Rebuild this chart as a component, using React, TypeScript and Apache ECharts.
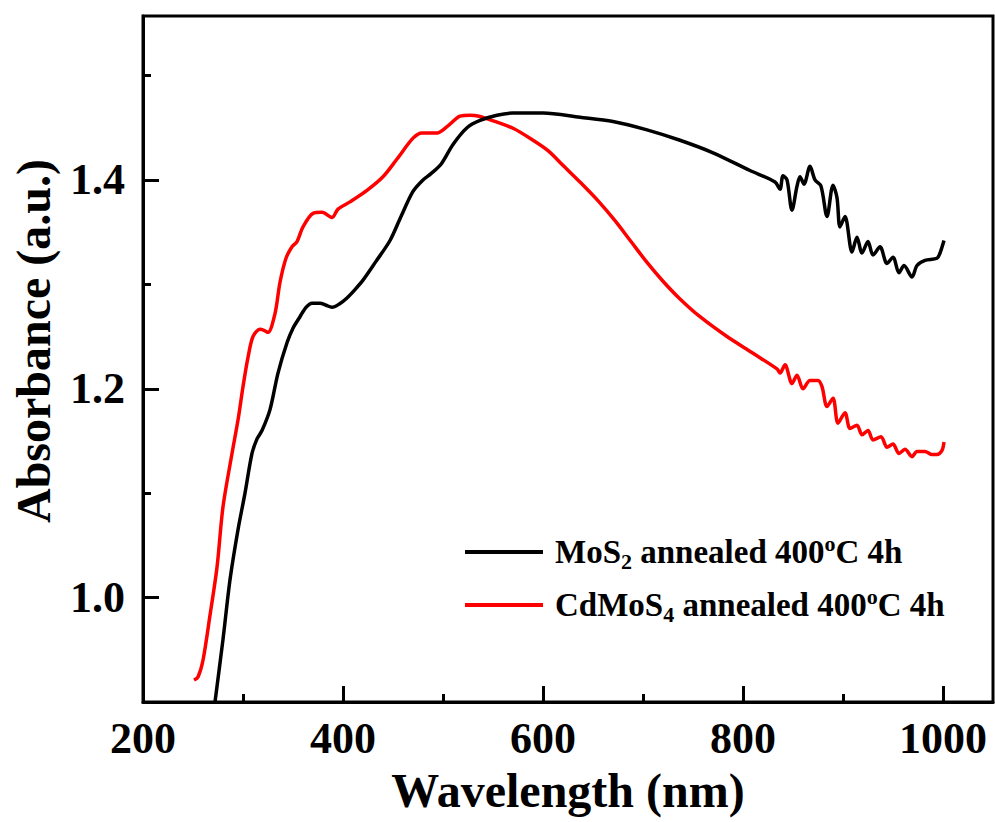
import React, { useEffect, useRef } from "react";
import * as echarts from "echarts";

const FONT = "'Liberation Serif', 'Times New Roman', serif";

const seriesNames = ["MoS2 annealed 400oC 4h", "CdMoS4 annealed 400oC 4h"];

// [wavelength (nm), absorbance (a.u.)]
const mos2Data: number[][] = [
  [269, 0.877], [272, 0.9], [280, 0.96], [287, 1.017], [295, 1.065], [302, 1.1],
  [309, 1.138], [314, 1.152], [319, 1.16], [327, 1.18], [335, 1.215], [344, 1.244],
  [350, 1.258], [357, 1.269], [363, 1.278], [369, 1.282], [377, 1.282], [383, 1.28],
  [389, 1.278], [396, 1.281], [404, 1.287], [412, 1.295], [420, 1.304], [433, 1.322],
  [447, 1.342], [458, 1.365], [470, 1.389], [480, 1.4], [488, 1.406], [498, 1.415],
  [510, 1.434], [524, 1.45], [537, 1.457], [554, 1.462], [570, 1.464], [600, 1.464],
  [637, 1.46], [670, 1.456], [704, 1.448], [737, 1.438], [770, 1.426], [807, 1.409],
  [832, 1.398], [837, 1.391], [840, 1.404], [844, 1.4], [849, 1.371], [854, 1.394],
  [857, 1.403], [861, 1.396], [867, 1.413], [872, 1.4], [878, 1.394], [884, 1.365],
  [890, 1.395], [894, 1.383], [897, 1.355], [902, 1.365], [909, 1.331], [914, 1.345],
  [919, 1.33], [925, 1.341], [930, 1.328], [937, 1.336], [944, 1.32], [950, 1.326],
  [956, 1.311], [961, 1.318], [969, 1.307], [974, 1.318], [982, 1.323], [994, 1.325],
  [997, 1.33], [1001, 1.342],
];

const cdmos4Data: number[][] = [
  [251, 0.921], [255, 0.924], [260, 0.94], [267, 0.983], [274, 1.029], [280, 1.087],
  [289, 1.138], [295, 1.17], [300, 1.202], [305, 1.23], [310, 1.25], [317, 1.257],
  [321, 1.256], [325, 1.254], [332, 1.272], [337, 1.302], [343, 1.325], [349, 1.336],
  [354, 1.341], [360, 1.355], [370, 1.368], [379, 1.369], [389, 1.364], [395, 1.372],
  [407, 1.379], [424, 1.39], [440, 1.403], [454, 1.42], [470, 1.44], [479, 1.445],
  [494, 1.445], [504, 1.451], [517, 1.461], [527, 1.462], [536, 1.461], [552, 1.456],
  [571, 1.449], [590, 1.438], [605, 1.428], [621, 1.413], [638, 1.397], [656, 1.379],
  [672, 1.361], [688, 1.341], [704, 1.321], [720, 1.303], [737, 1.286], [757, 1.269],
  [784, 1.25], [810, 1.234], [834, 1.219], [837, 1.215], [842, 1.223], [849, 1.205],
  [854, 1.213], [860, 1.2], [867, 1.208], [875, 1.208], [879, 1.202], [884, 1.183],
  [890, 1.191], [895, 1.167], [902, 1.177], [907, 1.162], [914, 1.165], [919, 1.156],
  [925, 1.16], [930, 1.151], [938, 1.154], [944, 1.144], [950, 1.147], [956, 1.138],
  [962, 1.142], [969, 1.135], [974, 1.14], [982, 1.14], [989, 1.137], [994, 1.137],
  [999, 1.141], [1001, 1.149],
];

const xMajorTicks = [200, 400, 600, 800, 1000];
const xMinorTicks = [300, 500, 700, 900];
const yMajorTicks = [1.0, 1.2, 1.4];
const yMinorTicks = [1.1, 1.3, 1.5];

const X_MIN = 200;
const X_MAX = 1050;
const Y_MIN = 0.9;
const Y_MAX = 1.557;

const legendRich: Record<string, string> = {
  [seriesNames[0]]: "{b|MoS}{sub|2}{b| annealed 400}{sup|o}{b|C 4h}",
  [seriesNames[1]]: "{b|CdMoS}{sub|4}{b| annealed 400}{sup|o}{b|C 4h}",
};

export default function App() {
  const ref = useRef<HTMLDivElement>(null);

  useEffect(() => {
    if (!ref.current) return;
    const chart = echarts.init(ref.current, null, { renderer: "svg" });
    const axisLineStyle = { color: "#000", width: 3 };
    const labelStyle = {
      fontFamily: FONT,
      fontWeight: "bold" as const,
      fontSize: 44,
      color: "#000",
    };
    chart.setOption({
      animation: false,
      backgroundColor: "#fff",
      grid: {
        left: 143,
        right: 2,
        top: 16,
        bottom: 120,
        show: true,
        borderColor: "#000",
        borderWidth: 3,
        containLabel: false,
      },
      legend: {
        orient: "vertical",
        left: 465,
        top: 532,
        padding: 0,
        itemWidth: 78,
        itemHeight: 4,
        itemGap: 13,
        icon: "rect",
        data: seriesNames,
        formatter: (name: string) => legendRich[name] || name,
        textStyle: {
          color: "#000",
          padding: [0, 0, 0, 7],
          rich: {
            b: {
              fontFamily: FONT,
              fontWeight: "bold",
              fontSize: 33,
              lineHeight: 40,
              color: "#000",
            },
            sub: {
              fontFamily: FONT,
              fontWeight: "bold",
              fontSize: 22,
              lineHeight: 18,
              verticalAlign: "bottom",
              color: "#000",
            },
            sup: {
              fontFamily: FONT,
              fontWeight: "bold",
              fontSize: 22,
              lineHeight: 16,
              verticalAlign: "top",
              color: "#000",
            },
          },
        },
      },
      xAxis: [
        {
          type: "value",
          min: X_MIN,
          max: X_MAX,
          interval: 200,
          position: "bottom",
          name: "Wavelength (nm)",
          nameLocation: "middle",
          nameGap: 64,
          nameTextStyle: { ...labelStyle, fontSize: 48 },
          axisLine: { show: true, lineStyle: axisLineStyle },
          axisTick: {
            show: true,
            inside: true,
            length: 16,
            customValues: xMajorTicks,
            lineStyle: axisLineStyle,
          },
          axisLabel: {
            ...labelStyle,
            margin: 14,
            customValues: xMajorTicks,
            formatter: (v: number) => String(v),
          },
          splitLine: { show: false },
        },
        {
          type: "value",
          min: X_MIN,
          max: X_MAX,
          position: "bottom",
          axisLine: { show: false },
          axisTick: {
            show: true,
            inside: true,
            length: 8,
            customValues: xMinorTicks,
            lineStyle: axisLineStyle,
          },
          axisLabel: { show: false },
          splitLine: { show: false },
        },
      ],
      yAxis: [
        {
          type: "value",
          min: Y_MIN,
          max: Y_MAX,
          position: "left",
          name: "Absorbance (a.u.)",
          nameLocation: "middle",
          nameGap: 86,
          nameTextStyle: { ...labelStyle, fontSize: 48, padding: [0, 0, 0, 36] },
          axisLine: { show: true, lineStyle: axisLineStyle },
          axisTick: {
            show: true,
            inside: true,
            length: 16,
            customValues: yMajorTicks,
            lineStyle: axisLineStyle,
          },
          axisLabel: {
            ...labelStyle,
            margin: 18,
            customValues: yMajorTicks,
            formatter: (v: number) => v.toFixed(1),
          },
          splitLine: { show: false },
        },
        {
          type: "value",
          min: Y_MIN,
          max: Y_MAX,
          position: "left",
          axisLine: { show: false },
          axisTick: {
            show: true,
            inside: true,
            length: 8,
            customValues: yMinorTicks,
            lineStyle: axisLineStyle,
          },
          axisLabel: { show: false },
          splitLine: { show: false },
        },
      ],
      series: [
        {
          name: seriesNames[0],
          type: "line",
          xAxisIndex: 0,
          yAxisIndex: 0,
          data: mos2Data,
          showSymbol: false,
          symbol: "none",
          smooth: 0.3,
          clip: true,
          color: "#000000",
          lineStyle: { color: "#000000", width: 3.5 },
          z: 3,
        },
        {
          name: seriesNames[1],
          type: "line",
          xAxisIndex: 0,
          yAxisIndex: 0,
          data: cdmos4Data,
          showSymbol: false,
          symbol: "none",
          smooth: 0.3,
          clip: true,
          color: "#ff0000",
          lineStyle: { color: "#ff0000", width: 3.5 },
          z: 2,
        },
      ],
    });
    return () => chart.dispose();
  }, []);

  return (
    <div
      ref={ref}
      style={{ position: "fixed", left: 0, top: 0, width: 995, height: 822, background: "#fff" }}
    />
  );
}
